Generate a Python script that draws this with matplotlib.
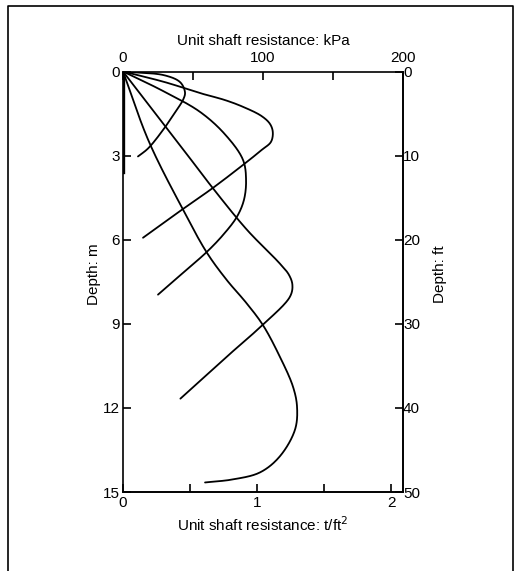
import matplotlib
matplotlib.use("Agg")
import matplotlib.pyplot as plt
from matplotlib.lines import Line2D
import numpy as np

plt.rcParams['font.family'] = ['Liberation Sans', 'DejaVu Sans']

KPA_PER_TSF = 95.76   # 1 t/ft2 in kPa
M_PER_FT = 0.3        # scale as drawn on the original (50 ft at 15 m)

# curves: (unit shaft resistance kPa, depth m)
c1_kpa = [0, 30, 41, 44.3, 43, 38, 30, 18, 10.7]
c1_dep = [0, 0.14, 0.39, 0.75, 1.0, 1.4, 1.99, 2.74, 3.03]

c2_kpa = [0, 30, 55, 72.9, 85.7, 99, 105, 107, 105.7, 99, 88.6, 64.3, 42.1, 14.3]
c2_dep = [0, 0.38, 0.77, 1.02, 1.26, 1.59, 1.87, 2.16, 2.51, 2.8, 3.22, 4.15, 4.93, 5.93]

c3_kpa = [0, 28, 55, 73, 85.7, 87.9, 86.4, 81.4, 72, 60, 42.9, 25]
c3_dep = [0, 0.68, 1.44, 2.25, 3.15, 3.87, 4.58, 5.18, 5.8, 6.43, 7.18, 7.96]

c4_kpa = [0, 43, 64, 88.6, 112, 118.5, 121, 119.3, 100, 81.4, 41]
c4_dep = [0, 2.78, 4.15, 5.65, 6.85, 7.25, 7.61, 8.03, 9.03, 9.85, 11.67]

c5_kpa = [0, 18.5, 42.9, 60, 74.3, 88, 100, 112, 121.4, 124.3, 122.9, 112, 97.9, 78.6, 58.6]
c5_dep = [0, 2.5, 4.93, 6.47, 7.45, 8.25, 9.05, 10.17, 11.24, 11.95, 12.77, 13.73, 14.30, 14.55, 14.66]

c0_kpa = [0, 0]
c0_dep = [0, 3.6]

top_ticks = [0, 100, 200]
top_minor = [50, 150]
bot_ticks = [0, 1, 2]
bot_minor = [0.5, 1.5]
left_ticks = [0, 3, 6, 9, 12, 15]
right_ticks = [0, 10, 20, 30, 40, 50]


def smooth(xs, ys, n=24):
    # centripetal Catmull-Rom through the read points, in screen-like units
    sx, sy = 1.4, 28.0
    p = np.column_stack([np.array(xs) * sx, np.array(ys) * sy]).astype(float)
    p = np.vstack([2 * p[0] - p[1], p, 2 * p[-1] - p[-2]])
    out = []
    for i in range(1, len(p) - 2):
        p0, p1, p2, p3 = p[i - 1], p[i], p[i + 1], p[i + 2]
        t0 = 0.0
        t1 = t0 + np.linalg.norm(p1 - p0) ** 0.5
        t2 = t1 + np.linalg.norm(p2 - p1) ** 0.5
        t3 = t2 + np.linalg.norm(p3 - p2) ** 0.5
        t = np.linspace(t1, t2, n)[:, None]
        a1 = (t1 - t) / (t1 - t0) * p0 + (t - t0) / (t1 - t0) * p1
        a2 = (t2 - t) / (t2 - t1) * p1 + (t - t1) / (t2 - t1) * p2
        a3 = (t3 - t) / (t3 - t2) * p2 + (t - t2) / (t3 - t2) * p3
        b1 = (t2 - t) / (t2 - t0) * a1 + (t - t0) / (t2 - t0) * a2
        b2 = (t3 - t) / (t3 - t1) * a2 + (t - t1) / (t3 - t1) * a3
        c = (t2 - t) / (t2 - t1) * b1 + (t - t1) / (t2 - t1) * b2
        out.append(c if i == 1 else c[1:])
    s = np.vstack(out)
    return s[:, 0] / sx, s[:, 1] / sy


fig = plt.figure(figsize=(5.16, 5.71), dpi=100)
ax = fig.add_axes([123 / 516, 1 - 492 / 571, 280 / 516, 420.5 / 571])

for xs, ys in [(c1_kpa, c1_dep), (c2_kpa, c2_dep), (c3_kpa, c3_dep),
               (c4_kpa, c4_dep), (c5_kpa, c5_dep)]:
    sx, sy = smooth(xs, ys)
    ax.plot(sx, sy, color='black', lw=1.3, solid_capstyle='round')
ax.plot(c0_kpa, c0_dep, color='black', lw=2.4)

ax.set_xlim(0, 200)
ax.set_ylim(15, 0)

# top axis: kPa
ax.xaxis.set_ticks_position('top')
ax.xaxis.set_label_position('top')
ax.set_xticks(top_ticks)
ax.set_xticks(top_minor, minor=True)
ax.set_xlabel('Unit shaft resistance: kPa', fontsize=11, labelpad=4)
ax.set_yticks(left_ticks)
ax.tick_params(axis='both', which='both', direction='in', length=6, width=1.2,
               labelsize=11, pad=2)
ax.tick_params(axis='x', which='both', pad=5)

# bottom axis: t/ft2
axb = ax.secondary_xaxis('bottom', functions=(lambda x: x / KPA_PER_TSF,
                                              lambda x: x * KPA_PER_TSF))
axb.set_xticks(bot_ticks)
axb.set_xticks(bot_minor, minor=True)
axb.set_xlabel('Unit shaft resistance: t/ft$^2$', fontsize=11, labelpad=4)
axb.tick_params(axis='x', which='both', direction='in', length=6, width=1.2,
                labelsize=11, pad=3)

# right axis: ft
axr = ax.secondary_yaxis('right', functions=(lambda y: y / M_PER_FT,
                                             lambda y: y * M_PER_FT))
axr.set_yticks(right_ticks)
axr.tick_params(axis='y', direction='in', length=6, width=1.2, labelsize=11, pad=0)

fig.text(94 / 516, 1 - 274 / 571, 'Depth: m', rotation=90, ha='center', va='center',
         fontsize=11)
fig.text(440 / 516, 1 - 274 / 571, 'Depth: ft', rotation=90, ha='center', va='center',
         fontsize=11)

for a in (ax, axb, axr):
    for s in a.spines.values():
        s.set_linewidth(1.2)

# outer frame (open at the bottom)
fig.add_artist(Line2D([8 / 516, 8 / 516, 513 / 516, 513 / 516],
                      [0, 1 - 6 / 571, 1 - 6 / 571, 0],
                      transform=fig.transFigure, color='black', lw=1.2))

fig.savefig('out.png', dpi=100)
